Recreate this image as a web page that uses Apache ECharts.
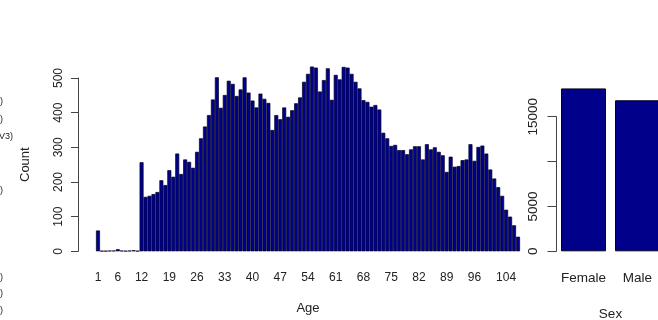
<!DOCTYPE html>
<html>
<head>
<meta charset="utf-8">
<script src="https://cdn.jsdelivr.net/npm/echarts@6/dist/echarts.min.js"></script>
<style>
  html, body { margin: 0; padding: 0; background: #ffffff; }
  #chart { width: 658px; height: 320px; }
</style>
</head>
<body>
<div id="chart"></div>
<script>
// Number of records for each age (1 .. 107)
const ageCounts = [
  60, 1, 1, 2, 2, 6, 2, 1, 2, 3,
  1, 257, 157, 160, 165, 171, 205, 191, 234, 215,
  282, 223, 265, 258, 241, 287, 326, 360, 393, 438,
  502, 414, 451, 492, 483, 448, 467, 502, 458, 435,
  415, 455, 440, 428, 350, 393, 381, 415, 388, 407,
  427, 444, 489, 512, 533, 530, 461, 494, 528, 437,
  509, 496, 532, 530, 512, 489, 470, 436, 431, 417,
  422, 409, 342, 326, 304, 307, 292, 292, 280, 294,
  303, 303, 265, 309, 294, 300, 287, 277, 229, 273,
  244, 246, 263, 265, 309, 261, 301, 305, 282, 236,
  210, 185, 160, 120, 100, 75, 42
];
const firstAge = 1;
const ages = ageCounts.map((_, i) => String(firstAge + i));

// Ages that get a label under the bars
const ageTickLabels = [1, 6, 12, 19, 26, 33, 40, 47, 54, 61, 68, 75, 82, 89, 96, 104];
const countTicks = [0, 100, 200, 300, 400, 500];

// Records by sex
const sexCategories = ['Female', 'Male'];
const sexCounts = [18150, 16830];
const sexTicks = [0, 5000, 10000, 15000];
const sexTickLabels = [0, 5000, 15000];

// Fragments of the neighbouring panel's labels at the left edge
const edgeLabels = [')', ')', 'V3)', ')', ')', ')', ')'];
const edgeLabelY = [102, 120, 137, 191, 278, 294, 311];

const FONT = '"Liberation Sans", Arial, Helvetica, sans-serif';
const INK = '#222222';
const LINE = '#444444';
const FILL = '#00008B';

const chart = echarts.init(document.getElementById('chart'), null, { renderer: 'canvas' });

const labelSet = new Set(ageTickLabels.map(String));
const plain = v => String(v);

chart.setOption({
  animation: false,
  backgroundColor: '#ffffff',
  textStyle: { fontFamily: FONT },
  grid: [
    { left: 96, top: 78, width: 424, height: 173.3, outerBoundsMode: 'none' },
    { left: 556.5, width: 108, top: 116.7, height: 134.6, outerBoundsMode: 'none' }
  ],
  xAxis: [
    {
      gridIndex: 0,
      type: 'category',
      data: ages,
      boundaryGap: true,
      axisLine: { show: false },
      axisTick: { show: false },
      axisLabel: {
        interval: (idx, val) => labelSet.has(val),
        color: INK, fontSize: 12, fontFamily: FONT, margin: 20
      },
      name: 'Age',
      nameLocation: 'middle',
      nameGap: 51,
      nameTextStyle: { color: INK, fontSize: 13, fontFamily: FONT }
    },
    {
      gridIndex: 1,
      type: 'category',
      data: sexCategories,
      boundaryGap: true,
      axisLine: { show: false },
      axisTick: { show: false },
      axisLabel: { interval: 0, color: INK, fontSize: 13.5, fontFamily: FONT, margin: 20 },
      name: 'Sex',
      nameLocation: 'middle',
      nameGap: 56,
      nameTextStyle: { color: INK, fontSize: 13.5, fontFamily: FONT }
    }
  ],
  yAxis: [
    {
      gridIndex: 0,
      type: 'value',
      min: 0, max: 500, interval: 100,
      offset: 18,
      splitLine: { show: false },
      axisLine: { show: true, lineStyle: { color: LINE, width: 1 } },
      axisTick: { show: true, length: 7, customValues: countTicks, lineStyle: { color: LINE } },
      axisLabel: {
        customValues: countTicks,
        formatter: plain,
        rotate: 90, margin: 13,
        color: INK, fontSize: 12, fontFamily: FONT
      },
      name: 'Count',
      nameLocation: 'middle',
      nameGap: 46,
      nameRotate: 90,
      nameTextStyle: { color: INK, fontSize: 13, fontFamily: FONT }
    },
    {
      gridIndex: 1,
      type: 'value',
      min: 0, max: 15000, interval: 5000,
      splitLine: { show: false },
      axisLine: { show: true, lineStyle: { color: LINE, width: 1 } },
      axisTick: { show: true, length: 9, customValues: sexTicks, lineStyle: { color: LINE } },
      axisLabel: {
        customValues: sexTickLabels,
        formatter: plain,
        rotate: 90, margin: 16,
        color: INK, fontSize: 13.5, fontFamily: FONT
      }
    }
  ],
  series: [
    {
      type: 'bar',
      xAxisIndex: 0, yAxisIndex: 0,
      data: ageCounts,
      clip: false,
      barCategoryGap: '0%',
      itemStyle: { color: FILL, borderColor: '#000022', borderWidth: 0.7 },
      silent: true
    },
    {
      type: 'bar',
      xAxisIndex: 1, yAxisIndex: 1,
      data: sexCounts,
      clip: false,
      barCategoryGap: '16.7%',
      itemStyle: { color: FILL, borderColor: '#000022', borderWidth: 1 },
      silent: true
    }
  ],
  graphic: edgeLabels.map((t, i) => ({
    type: 'text',
    left: t.length > 1 ? -1 : 0,
    top: edgeLabelY[i] - 5,
    style: { text: t, fill: INK, font: '9px ' + FONT }
  }))
});
</script>
</body>
</html>
